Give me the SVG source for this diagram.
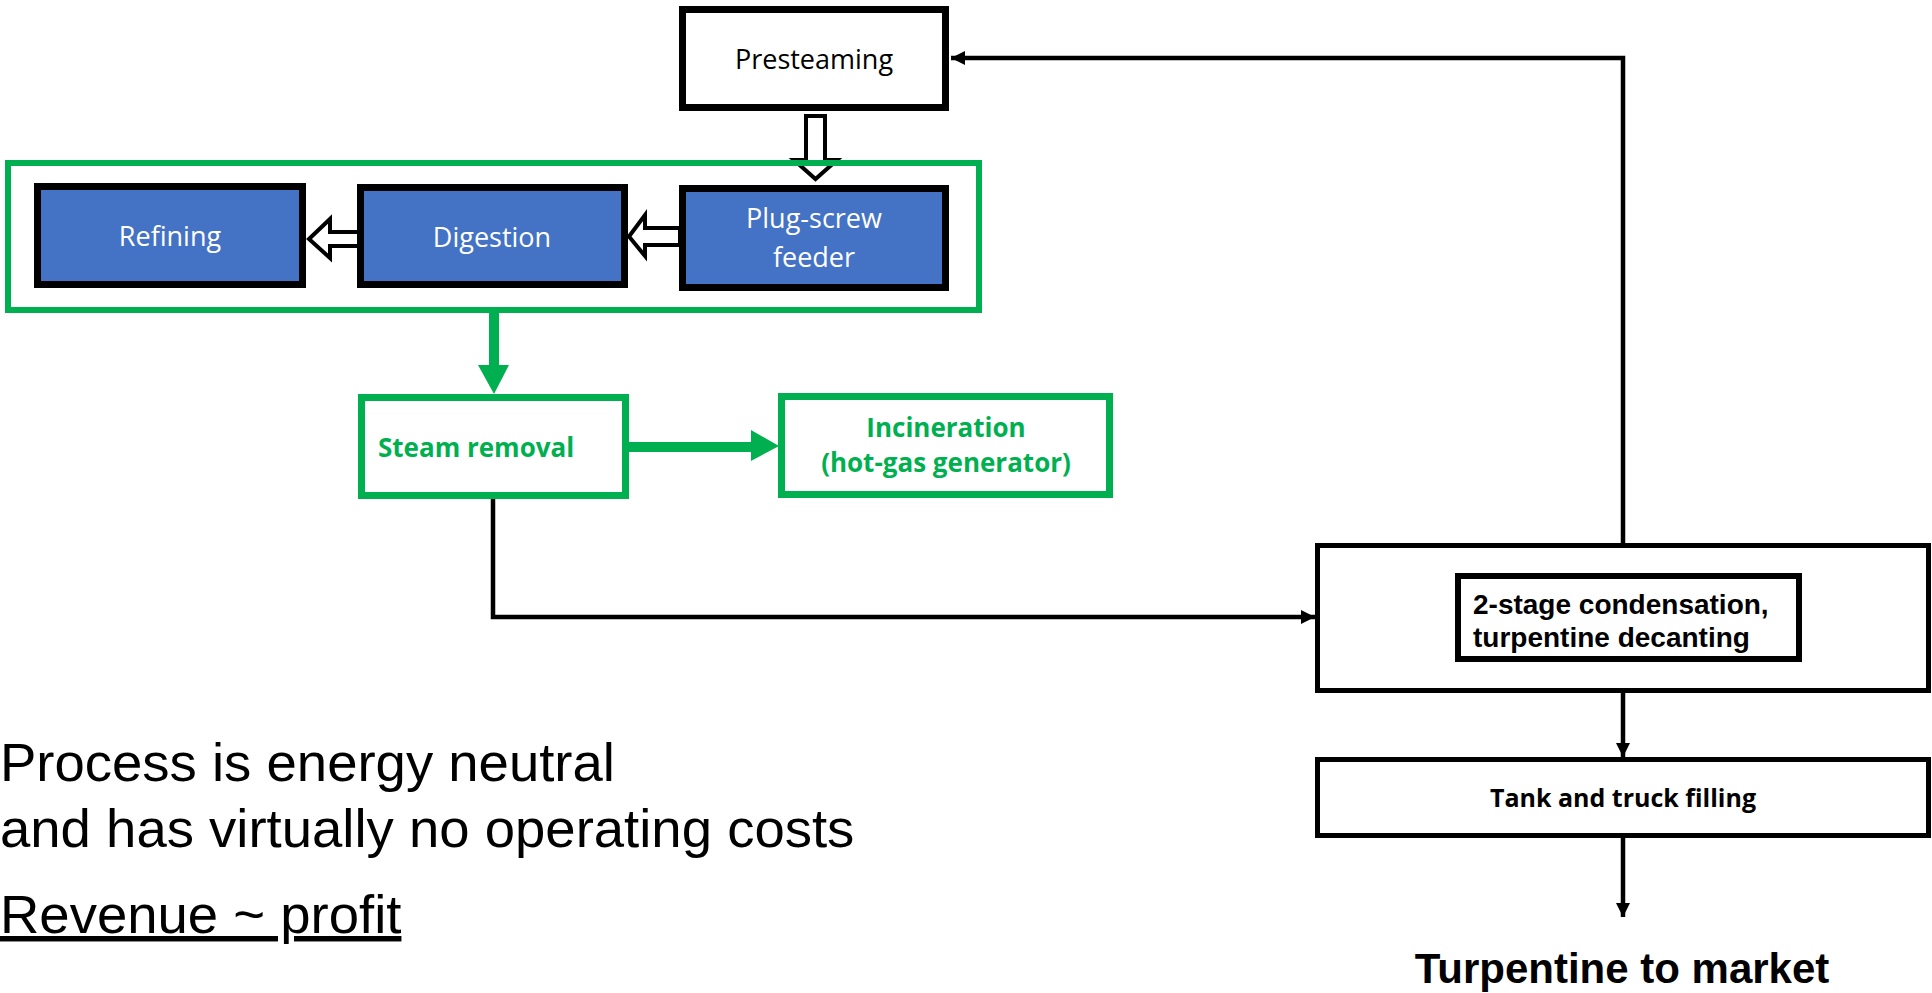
<svg xmlns="http://www.w3.org/2000/svg" width="1932" height="993" viewBox="0 0 1932 993">
<style>
.box{fill:#fff;stroke:#000}
.blue{fill:#4472C4;stroke:#000;stroke-width:7}
.gbox{fill:#fff;stroke:#00B050;stroke-width:7}
.cal{font-family:"Open Sans","Noto Sans",sans-serif;font-size:27px;text-anchor:middle}
.w{fill:#fff}
.gt{font-family:"Open Sans","Noto Sans",sans-serif;font-size:26px;font-weight:bold;fill:#00B050}
.ab{font-family:"Liberation Sans",Arial,sans-serif;font-weight:bold;fill:#000}
.big{font-family:"Liberation Sans",Arial,sans-serif;font-size:54.5px;fill:#000}
.ln{fill:none;stroke:#000;stroke-width:4.5}
.hol{fill:#fff;stroke:#000;stroke-width:4;stroke-linejoin:miter}
.gl{fill:#00B050;stroke:none}
</style>
<defs>
<marker id="ah" viewBox="0 0 14 14" refX="14" refY="7" markerUnits="userSpaceOnUse" markerWidth="14" markerHeight="15" orient="auto">
<path d="M0,0 L14,7 L0,14 Z" fill="#000"/>
</marker>
</defs>
<g id="connectors">
<path class="ln" d="M1623,543 L1623,58 L951,58" marker-end="url(#ah)"/>
<path class="ln" d="M493,499 L493,617 L1315,617" marker-end="url(#ah)"/>
<path class="ln" d="M1623,693 L1623,757" marker-end="url(#ah)"/>
<path class="ln" d="M1623,838 L1623,917" marker-end="url(#ah)"/>
<path class="hol" d="M806,116 L825,116 L825,160 L837,160 L815.5,179 L794,160 L806,160 Z"/>
<path class="hol" d="M680,228 L645,228 L645,215 L629,236.5 L645,256 L645,245 L680,245 Z"/>
<path class="hol" d="M359,232 L330,232 L330,219 L309,239 L330,258 L330,246 L359,246 Z"/>
<path class="gl" d="M489,308 L499,308 L499,365 L509,365 L494,394 L478,365 L489,365 Z"/>
<path class="gl" d="M627,442 L751,442 L751,430 L779,446 L751,461 L751,452 L627,452 Z"/>
</g>
<g id="container-green">
<rect x="8" y="163" width="971" height="147" fill="none" stroke="#00B050" stroke-width="6"/>
</g>
<g id="presteaming">
<rect class="box" x="682.5" y="9.5" width="263" height="98" stroke-width="7"/>
<text class="cal" x="814" y="69">Presteaming</text>
</g>
<g id="refining">
<rect class="blue" x="37.5" y="186.5" width="265" height="98"/>
<text class="cal w" x="170" y="246">Refining</text>
</g>
<g id="digestion">
<rect class="blue" x="360.5" y="187.5" width="264" height="97"/>
<text class="cal w" x="492" y="247">Digestion</text>
</g>
<g id="plug-screw-feeder">
<rect class="blue" x="682.5" y="188.5" width="263" height="99"/>
<text class="cal w" x="814" y="228">Plug-screw</text>
<text class="cal w" x="814" y="267">feeder</text>
</g>
<g id="steam-removal">
<rect class="gbox" x="361.5" y="397.5" width="264" height="98"/>
<text class="gt" x="378" y="457">Steam removal</text>
</g>
<g id="incineration">
<rect class="gbox" x="781.5" y="396.5" width="328" height="98"/>
<text class="gt" x="946" y="437" text-anchor="middle">Incineration</text>
<text class="gt" x="946" y="472" text-anchor="middle">(hot-gas generator)</text>
</g>
<g id="condensation">
<rect class="box" x="1317.5" y="545.5" width="611" height="145" stroke-width="5"/>
<rect class="box" x="1458" y="576" width="341" height="83" stroke-width="6"/>
<text class="ab" x="1473" y="614" font-size="28">2-stage condensation,</text>
<text class="ab" x="1473" y="647" font-size="28">turpentine decanting</text>
</g>
<g id="tank-filling">
<rect class="box" x="1317.5" y="759.5" width="611" height="76" stroke-width="5"/>
<text x="1623" y="807" font-family="'Open Sans','Noto Sans',sans-serif" font-size="25" font-weight="bold" text-anchor="middle">Tank and truck filling</text>
</g>
<g id="market">
<text class="ab" x="1622" y="983" font-size="42" text-anchor="middle">Turpentine to market</text>
</g>
<g id="notes">
<text class="big" x="0" y="781">Process is energy neutral</text>
<text class="big" x="0" y="847">and has virtually no operating costs</text>
<text class="big" x="0" y="933" font-size="54" text-decoration="underline">Revenue ~ profit</text>
</g>
</svg>
